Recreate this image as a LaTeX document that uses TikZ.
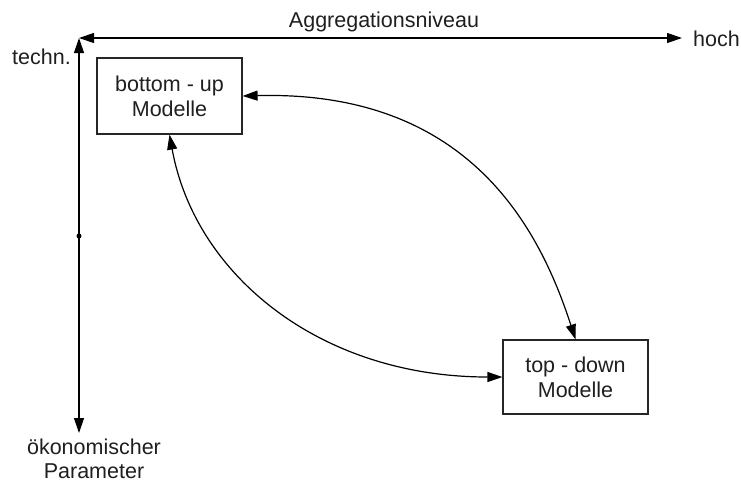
\documentclass[tikz,border=0pt]{standalone}
\usepackage{fontspec}
\setmainfont{Liberation Sans}
\usetikzlibrary{arrows.meta}
\begin{document}
\begin{tikzpicture}[x=1pt,y=-1pt,
  lbl/.style={font=\fontsize{21.5}{24}\selectfont, text=black!88, inner sep=0pt},
  modbox/.style={draw=black!85, line width=1.2pt, minimum width=145pt, minimum height=75pt,
     align=center, font=\fontsize{21.5}{25}\selectfont, text=black!88, inner sep=0pt},
  conn/.style={line width=1.2pt, {Triangle[length=15pt,width=10pt]}-{Triangle[length=15pt,width=10pt]}}
]
\useasboundingbox (0,0) rectangle (741,483);
\coordinate (O) at (79,38);
\coordinate (H) at (682,38);
\coordinate (V) at (79,433);
\coordinate (M) at (79,236);
\draw[conn] (O) -- (H);
\draw[conn] (O) -- (V);
\fill (M) circle (2.5);
\node[lbl, anchor=base] (agg) at (384,27) {Aggregationsniveau};
\node[lbl, anchor=base west] (hoch) at (693,46) {hoch};
\node[lbl, anchor=base east] (techn) at (71,64) {techn.};
\node[lbl, anchor=base] (oek) at (94,454) {ökonomischer};
\node[lbl, anchor=base] (par) at (94,478) {Parameter};
\node[modbox, minimum height=76pt] (bu) at (169.5,96) {bottom - up\\Modelle};
\node[modbox, minimum height=74pt] (td) at (575.5,377) {top - down\\Modelle};
\draw[conn] (bu.east) .. controls (470,90) and (540,230) .. (td.north);
\draw[conn] (bu.south) .. controls (195,275) and (320,377) .. (td.west);
\end{tikzpicture}
\end{document}
